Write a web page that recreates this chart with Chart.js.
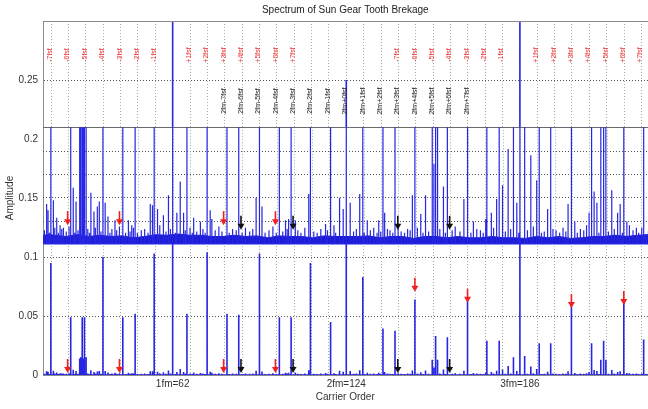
<!DOCTYPE html>
<html>
<head>
<meta charset="utf-8">
<title>Spectrum of Sun Gear Tooth Brekage</title>
<script src="https://cdn.jsdelivr.net/npm/chart.js@4.4.1/dist/chart.umd.min.js"></script>
<style>
    html, body { margin: 0; padding: 0; background: #fff; width: 648px; height: 409px; overflow: hidden; }
    canvas { display: block; }
</style>
</head>
<body>
<canvas id="spectrum" width="656" height="409"></canvas>
<script>
// spectrum.js

const fmOrders = [62, 124, 186];
const fmLabels = ['1fm=62', '2fm=124', '3fm=186'];
const fsf = 6.2;
const sideOffsets = [-7, -6, -5, -4, -3, -2, -1, 1, 2, 3, 4, 5, 6, 7];
const innerOffsets = [-7, -6, -5, -4, -3, -2, -1, 0, 1, 2, 3, 4, 5, 6, 7];

const xMin = 15.7, xMax = 234.6;
const yMin = 0, yMax = 0.3, yStep = 0.05;

// magnified band drawn over the main axes
const zoomBase = 0.111, zoomTop = 0.21, zoomGain = 10.6, zoomDivisions = 5;

// [carrier order, amplitude]
const majorPeaks = [
    [18.5, 0.095], [25.6, 0.049], [28.8, 0.014], [29.2, 0.015], [29.7, 0.049], [30.1, 0.014],
    [30.5, 0.049], [31.1, 0.015], [37.1, 0.100], [44.2, 0.049], [48.6, 0.052], [55.4, 0.103],
    [62, 0.35], [67.1, 0.052], [74.3, 0.104], [81.4, 0.052], [85.6, 0.051], [93.0, 0.103],
    [100.1, 0.049], [104.3, 0.049], [111.2, 0.095], [118.4, 0.045], [124, 0.25], [129.9, 0.083],
    [137.1, 0.0395], [141.4, 0.0375], [148.5, 0.064], [154.7, 0.013], [155.9, 0.033], [156.6, 0.013],
    [160.1, 0.032], [167.3, 0.063], [174.2, 0.029], [178.6, 0.029], [181.8, 0.0076], [183.7, 0.015],
    [186, 0.35], [187.7, 0.016], [189.9, 0.0071], [192.9, 0.027], [197.0, 0.027], [204.4, 0.061],
    [211.6, 0.027], [214.9, 0.013], [215.9, 0.029], [216.7, 0.013], [223.1, 0.061], [230.2, 0.030]
];

const minorPeaks = [
    [17.0, 0.0032], [17.5, 0.0027], [19.4, 0.0035], [20.6, 0.0021], [21.8, 0.0015], [23.0, 0.0013],
    [26.5, 0.0045], [27.5, 0.0034], [32.8, 0.0041], [33.9, 0.0026], [35.1, 0.0030], [35.8, 0.0034],
    [37.9, 0.0033], [38.9, 0.0022], [41.4, 0.0019], [46.2, 0.0019], [47.4, 0.0015], [54.0, 0.0032],
    [54.8, 0.0031], [56.6, 0.0028], [58.7, 0.0023], [60.5, 0.0039], [63.5, 0.0025], [64.7, 0.0050],
    [65.9, 0.0025], [69.5, 0.0021], [71.9, 0.0018], [75.4, 0.0027], [76.0, 0.0020], [91.8, 0.0037],
    [93.9, 0.0030], [102.3, 0.0019], [103.4, 0.0020], [105.8, 0.0019], [110.6, 0.0040], [116.6, 0.0016],
    [121.6, 0.0037], [122.9, 0.0028], [125.4, 0.0033], [128.8, 0.0040], [131.5, 0.0019], [135.6, 0.0019],
    [137.7, 0.0025], [147.6, 0.0039], [150.6, 0.0024], [152.3, 0.0039], [155.3, 0.0064], [158.7, 0.0046],
    [166.0, 0.0036], [169.4, 0.0018], [173.8, 0.0020], [175.8, 0.0025], [177.7, 0.0036], [179.8, 0.0047],
    [184.9, 0.0033], [192.0, 0.0051], [195.9, 0.0028], [203.2, 0.0032], [205.6, 0.0018], [210.7, 0.0025],
    [212.5, 0.0042], [213.5, 0.0033], [218.8, 0.0043], [220.9, 0.0025], [221.8, 0.0032], [224.2, 0.0018],
    [225.1, 0.0015], [229.5, 0.0013], [231.0, 0.0008]
];

const noiseSpikes = [
    [16.2, 0.0011], [18.0, 0.0009], [19.9, 0.0013], [21.2, 0.0009], [22.4, 0.0012], [24.0, 0.0010],
    [25.0, 0.0014], [27.0, 0.0009], [28.2, 0.0011], [31.7, 0.0012], [32.3, 0.0009], [34.4, 0.0013],
    [36.4, 0.0010], [39.6, 0.0009], [40.3, 0.0012], [42.0, 0.0011], [43.0, 0.0014], [45.2, 0.0009],
    [46.8, 0.0010], [48.0, 0.0013], [49.4, 0.0009], [50.8, 0.0011], [52.0, 0.0012], [53.2, 0.0009],
    [57.4, 0.0015], [59.6, 0.0010], [61.2, 0.0012], [63.0, 0.0009], [66.5, 0.0011], [68.2, 0.0013],
    [69.0, 0.0009], [70.6, 0.0010], [72.8, 0.0012], [73.6, 0.0009], [77.2, 0.0011], [78.5, 0.0014],
    [79.6, 0.0010], [82.2, 0.0009], [83.4, 0.0012], [84.7, 0.0011], [86.8, 0.0009], [88.0, 0.0013],
    [89.5, 0.0010], [90.6, 0.0012], [95.0, 0.0009], [96.4, 0.0011], [97.8, 0.0014], [99.0, 0.0009],
    [101.3, 0.0010], [102.9, 0.0012], [106.7, 0.0011], [107.8, 0.0009], [109.2, 0.0013], [112.4, 0.0010],
    [113.6, 0.0009], [114.9, 0.0012], [117.3, 0.0011], [119.6, 0.0015], [120.2, 0.0009], [126.6, 0.0010],
    [127.6, 0.0012], [130.4, 0.0009], [132.6, 0.0011], [133.8, 0.0013], [135.0, 0.0009], [136.3, 0.0010],
    [138.7, 0.0012], [139.6, 0.0011], [140.6, 0.0009], [142.5, 0.0014], [143.6, 0.0010], [144.8, 0.0009],
    [145.9, 0.0012], [146.8, 0.0011], [149.4, 0.0013], [151.4, 0.0009], [153.4, 0.0010], [157.4, 0.0012],
    [159.4, 0.0009], [161.8, 0.0011], [162.9, 0.0014], [164.6, 0.0010], [168.5, 0.0009], [170.6, 0.0012],
    [171.9, 0.0011], [172.9, 0.0009], [176.6, 0.0013], [180.8, 0.0010], [182.7, 0.0012], [185.6, 0.0009],
    [188.7, 0.0011], [190.8, 0.0014], [193.7, 0.0009], [194.7, 0.0010], [197.8, 0.0012], [198.9, 0.0011],
    [200.2, 0.0009], [201.4, 0.0013], [202.4, 0.0010], [206.5, 0.0009], [207.6, 0.0012], [208.8, 0.0011],
    [209.8, 0.0015], [214.2, 0.0009], [217.6, 0.0010], [219.7, 0.0012], [222.6, 0.0009], [226.4, 0.0011],
    [227.6, 0.0013], [228.4, 0.0009], [231.9, 0.0010], [233.0, 0.0012], [234.0, 0.0009]
];

const noiseFloor = [
    [15.7, 0.0007], [18, 0.00075], [20, 0.0007], [24, 0.0006], [28, 0.00075], [32, 0.0006],
    [36, 0.0007], [40, 0.0006], [44, 0.00065], [48, 0.0005], [52, 0.0006], [56, 0.00075],
    [60, 0.0007], [64, 0.0008], [68, 0.0007], [72, 0.0007], [76, 0.0006], [80, 0.0006],
    [84, 0.0007], [88, 0.0006], [92, 0.00065], [96, 0.0005], [100, 0.00065], [104, 0.0006],
    [108, 0.0006], [112, 0.0005], [116, 0.00065], [120, 0.0006], [124, 0.0006], [128, 0.0006],
    [132, 0.00065], [136, 0.0005], [140, 0.0006], [144, 0.0006], [148, 0.00045], [152, 0.0006],
    [156, 0.0006], [160, 0.0005], [164, 0.0006], [168, 0.0005], [172, 0.0005], [176, 0.0006],
    [180, 0.0005], [184, 0.0005], [188, 0.00045], [192, 0.0006], [196, 0.0005], [200, 0.0006],
    [204, 0.00045], [208, 0.0005], [212, 0.0006], [216, 0.0006], [220, 0.0007], [224, 0.0006],
    [228, 0.0007], [232, 0.00075], [234.6, 0.0008]
];

// arrows: carrier order, tip amplitude
const redArrowsBase = [24.5, 43.0, 80.2, 98.7];
const redArrowsPeak = [148.5, 167.3, 204.4, 223.1];
const redArrowsPeakTip = [0.0705, 0.0612, 0.0567, 0.0593];
const blackArrows = [86.4, 105.0, 142.4, 160.9];
const baseArrowTip = 0.0017;
const zoomRedArrowTip = 0.127;
const zoomBlackArrowTip = 0.123;

const FONT = "'Liberation Sans', Arial, sans-serif";
const BLUE = 'rgb(38, 38, 228)';

// sideband grid lines
const gridOrders = [];
for (let k = -7; k <= 27; k++) gridOrders.push(+(fmOrders[0] + k * fsf).toFixed(2));

const allPeaks = [...majorPeaks, ...minorPeaks, ...noiseSpikes].sort((a, b) => a[0] - b[0]);

const stemPoints = (base, map) => {
    const pts = [];
    allPeaks.forEach(([o, a]) => {
        pts.push({ x: o, y: base }, { x: o, y: map(a) }, { x: o, y: base });
    });
    return pts;
};

const zoomValue = a => Math.min(zoomBase + zoomGain * a, zoomTop);

const drawArrow = (ctx, px, tipY, color) => {
    ctx.strokeStyle = color;
    ctx.fillStyle = color;
    ctx.lineWidth = 1.6;
    ctx.beginPath();
    ctx.moveTo(px, tipY - 14);
    ctx.lineTo(px, tipY - 4);
    ctx.stroke();
    ctx.beginPath();
    ctx.moveTo(px - 3.5, tipY - 6);
    ctx.lineTo(px + 3.5, tipY - 6);
    ctx.lineTo(px, tipY);
    ctx.closePath();
    ctx.fill();
};

const drawVText = (ctx, text, px, py, color) => {
    ctx.save();
    ctx.translate(px, py);
    ctx.rotate(-Math.PI / 2);
    ctx.fillStyle = color;
    ctx.font = `7px ${FONT}`;
    ctx.textAlign = 'center';
    ctx.textBaseline = 'middle';
    ctx.fillText(text, 0, 0);
    ctx.restore();
};

const overlayPlugin = {
    id: 'overlay',
    // after the plain spectrum: blank the band and draw its own grid
    afterDatasetDraw(chart, args) {
        if (args.index !== 0) return;
        const { ctx, chartArea: a, scales: { x, y } } = chart;
        const top = y.getPixelForValue(zoomTop);
        const bottom = y.getPixelForValue(zoomBase);
        ctx.save();
        ctx.fillStyle = '#fff';
        ctx.fillRect(a.left + 1, top, a.right - a.left, bottom - top);
        ctx.lineWidth = 1;
        ctx.setLineDash([1, 2]);
        ctx.strokeStyle = '#555';
        for (let i = 1; i < zoomDivisions; i++) {
            const py = Math.round(top + (bottom - top) * i / zoomDivisions) + 0.5;
            ctx.beginPath();
            ctx.moveTo(a.left, py);
            ctx.lineTo(a.right, py);
            ctx.stroke();
        }
        ctx.strokeStyle = '#a3ada3';
        x.ticks.forEach(t => {
            const px = Math.round(x.getPixelForValue(t.value)) + 0.5;
            ctx.beginPath();
            ctx.moveTo(px, top);
            ctx.lineTo(px, bottom);
            ctx.stroke();
        });
        ctx.setLineDash([]);
        ctx.strokeStyle = '#6a6a6a';
        ctx.beginPath();
        ctx.moveTo(a.left, Math.round(top) + 0.5);
        ctx.lineTo(a.right, Math.round(top) + 0.5);
        ctx.stroke();
        ctx.restore();
    },
    afterDatasetsDraw(chart) {
        const { ctx, chartArea: a, scales: { x, y } } = chart;
        ctx.save();
        // top frame line
        ctx.strokeStyle = '#8c8c8c';
        ctx.lineWidth = 1;
        ctx.beginPath();
        ctx.moveTo(a.left, a.top + 0.5);
        ctx.lineTo(a.right, a.top + 0.5);
        ctx.stroke();

        // sideband labels
        [fmOrders[0], fmOrders[2]].forEach(fm => {
            sideOffsets.forEach(k => {
                const px = x.getPixelForValue(fm + k * fsf) - 1;
                drawVText(ctx, `${k < 0 ? '-' : '+'}${Math.abs(k)}fsf`, px, 55, '#f03434');
            });
        });
        innerOffsets.forEach(k => {
            const px = x.getPixelForValue(fmOrders[1] + k * fsf) - 1;
            drawVText(ctx, `2fm${k < 0 ? '-' : '+'}${Math.abs(k)}fsf`, px, 101, '#222');
        });

        // arrows in both panels
        redArrowsBase.forEach(o => {
            drawArrow(ctx, x.getPixelForValue(o), y.getPixelForValue(baseArrowTip), '#f02020');
            drawArrow(ctx, x.getPixelForValue(o), y.getPixelForValue(zoomRedArrowTip), '#f02020');
        });
        redArrowsPeak.forEach((o, i) => {
            drawArrow(ctx, x.getPixelForValue(o), y.getPixelForValue(redArrowsPeakTip[i]), '#f02020');
        });
        blackArrows.forEach(o => {
            drawArrow(ctx, x.getPixelForValue(o), y.getPixelForValue(baseArrowTip), '#111');
            drawArrow(ctx, x.getPixelForValue(o), y.getPixelForValue(zoomBlackArrowTip), '#111');
        });
        ctx.restore();
    },
    afterDraw(chart) {
        const { ctx, chartArea: a, scales: { x } } = chart;
        const cx = x.getPixelForValue(fmOrders[1]) - 1;
        ctx.save();
        ctx.fillStyle = '#222';
        ctx.textAlign = 'center';
        ctx.textBaseline = 'middle';
        ctx.font = `10px ${FONT}`;
        ctx.fillText('Spectrum of Sun Gear Tooth Brekage', cx, 10);
        ctx.fillStyle = '#333';
        ctx.fillText('Carrier Order', cx, a.bottom + 22);
        ctx.restore();
    }
};

new Chart(document.getElementById('spectrum'), {
    type: 'line',
    data: {
        datasets: [
            {
                data: stemPoints(0, a => a),
                borderColor: BLUE,
                borderWidth: 1.6,
                pointRadius: 0,
                tension: 0,
                clip: 0,
                order: 3
            },
            {
                data: noiseFloor.map(([o, a]) => ({ x: o, y: zoomValue(a) })),
                borderColor: 'rgb(28, 28, 210)',
                backgroundColor: 'rgb(28, 28, 210)',
                borderWidth: 1,
                pointRadius: 0,
                tension: 0,
                fill: { value: zoomBase },
                clip: 0,
                order: 2
            },
            {
                data: stemPoints(zoomBase, zoomValue),
                borderColor: BLUE,
                borderWidth: 1.2,
                pointRadius: 0,
                tension: 0,
                clip: 0,
                order: 1
            }
        ]
    },
    options: {
        responsive: false,
        animation: false,
        events: [],
        layout: { padding: { top: 21, right: 0, bottom: 0, left: 0 } },
        plugins: {
            legend: { display: false },
            tooltip: { enabled: false },
            title: { display: false }
        },
        scales: {
            x: {
                type: 'linear',
                min: xMin,
                max: xMax,
                afterBuildTicks: axis => {
                    axis.ticks = gridOrders.map(value => ({ value }));
                },
                afterFit: axis => { axis.height = 34; },
                ticks: {
                    autoSkip: false,
                    maxRotation: 0,
                    minRotation: 0,
                    padding: 3,
                    color: '#333',
                    font: { family: FONT, size: 10 },
                    callback: value => {
                        const i = fmOrders.findIndex(f => Math.abs(f - value) < 1e-6);
                        return i >= 0 ? fmLabels[i] : '';
                    }
                },
                grid: { color: '#a3ada3', lineWidth: 1, drawTicks: false },
                border: { display: true, color: '#8c8c8c', width: 1, dash: [1, 2] }
            },
            y: {
                min: yMin,
                max: yMax,
                afterFit: axis => { axis.width = 43; },
                ticks: {
                    stepSize: yStep,
                    padding: 5,
                    color: '#333',
                    font: { family: FONT, size: 10 },
                    callback: v => (v > yMax - 0.01 ? '' : String(+v.toFixed(2)))
                },
                grid: { color: '#555', lineWidth: 1, drawTicks: false },
                border: { display: true, color: '#8c8c8c', width: 1, dash: [1, 2] },
                title: {
                    display: true,
                    text: 'Amplitude',
                    color: '#333',
                    font: { family: FONT, size: 10 },
                    padding: { top: 4, bottom: 0 }
                }
            }
        }
    },
    plugins: [overlayPlugin]
});
</script>
</body>
</html>
